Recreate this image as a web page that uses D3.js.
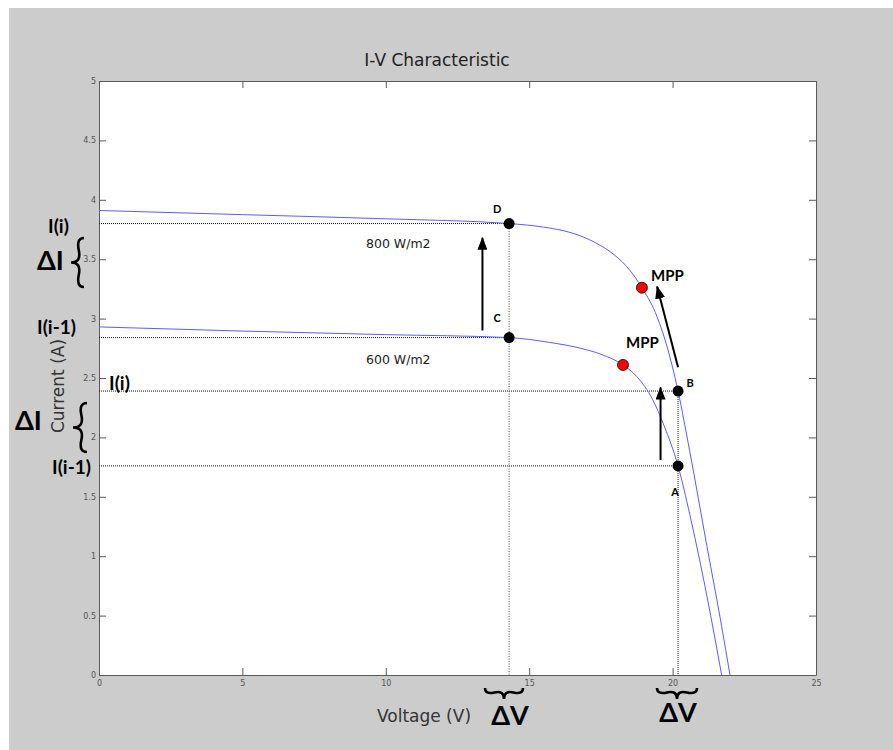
<!DOCTYPE html>
<html>
<head>
<meta charset="utf-8">
<script src="https://cdn.jsdelivr.net/npm/d3@7"></script>
<style>
  body { margin: 0; background: #fff; }
</style>
</head>
<body>
<script>
// courbe 800 W/m2
const voltage800 = [0, 5, 10, 14.3, 15.5, 16.5, 17.3, 18.0, 18.5, 18.93, 19.4, 19.8, 20.19, 20.6, 21.2, 21.71, 22.0]
const current800 = [3.91, 3.875, 3.84, 3.80, 3.77, 3.72, 3.64, 3.53, 3.41, 3.26, 3.05, 2.77, 2.39, 1.88, 1.08, 0.41, 0]

// courbe 600 W/m2
const voltage600 = [0, 5, 10, 14.3, 15.7, 16.8, 17.5, 18.27, 18.76, 19.3, 19.7, 20.19, 20.6, 21.2, 21.71]
const current600 = [2.93, 2.895, 2.865, 2.84, 2.80, 2.75, 2.70, 2.61, 2.51, 2.32, 2.10, 1.76, 1.35, 0.66, 0]

// points A B C D et MPP
const pointNames = ['D', 'C', 'B', 'A']
const pointV = [14.3, 14.3, 20.19, 20.19]
const pointI = [3.80, 2.84, 2.39, 1.76]
const mppV = [18.93, 18.27]
const mppI = [3.26, 2.61]

const xTicks = [0, 5, 10, 15, 20, 25]
const yTicks = [0, 0.5, 1, 1.5, 2, 2.5, 3, 3.5, 4, 4.5, 5]

const W = 893, H = 750
const margin = { top: 81, right: 77, bottom: 75, left: 99 }

const svg = d3.select('body').append('svg')
    .attr('width', W)
    .attr('height', H)

// fond gris de la figure
svg.append('rect').attr('x', 9).attr('y', 8).attr('width', W - 9).attr('height', H - 8).attr('fill', '#cccccc')

let x = d3.scaleLinear().domain([0, 25]).range([margin.left, W - margin.right])
let y = d3.scaleLinear().domain([0, 5]).range([H - margin.bottom, margin.top])

svg.append('rect')
    .attr('x', x(0)).attr('y', y(5))
    .attr('width', x(25) - x(0)).attr('height', y(0) - y(5))
    .attr('fill', '#fff')

// axes (ticks vers l'intérieur, comme matlab)
function styleAxis(g) {
    g.selectAll('path').attr('stroke', '#5a5a5a')
    g.selectAll('line').attr('stroke', '#5a5a5a')
    g.selectAll('text').attr('fill', '#555').attr('font-family', 'DejaVu Sans').attr('font-size', 8)
}
svg.append('g').attr('transform', 'translate(0,' + y(0) + ')')
    .call(d3.axisBottom(x).tickValues(xTicks).tickSizeInner(-7).tickSizeOuter(0).tickPadding(5).tickFormat(d3.format('')))
    .call(styleAxis)
svg.append('g').attr('transform', 'translate(0,' + y(5) + ')')
    .call(d3.axisTop(x).tickValues(xTicks).tickSizeInner(-7).tickSizeOuter(0).tickFormat(''))
    .call(styleAxis)
svg.append('g').attr('transform', 'translate(' + x(0) + ',0)')
    .call(d3.axisLeft(y).tickValues(yTicks).tickSizeInner(-7).tickSizeOuter(0).tickPadding(3).tickFormat(d3.format('')))
    .call(styleAxis)
svg.append('g').attr('transform', 'translate(' + x(25) + ',0)')
    .call(d3.axisRight(y).tickValues(yTicks).tickSizeInner(-7).tickSizeOuter(0).tickFormat(''))
    .call(styleAxis)
svg.selectAll('.domain').attr('fill', 'none')

// titre et labels
svg.append('text').text('I-V Characteristic')
    .attr('x', 437).attr('y', 66).attr('text-anchor', 'middle')
    .attr('font-family', 'DejaVu Sans').attr('font-size', 17).attr('fill', '#222')
svg.append('text').text('Voltage (V)')
    .attr('x', 424).attr('y', 722).attr('text-anchor', 'middle')
    .attr('font-family', 'DejaVu Sans').attr('font-size', 17).attr('fill', '#333')
svg.append('text').text('Current (A)')
    .attr('transform', 'translate(64,386) rotate(-90)').attr('text-anchor', 'middle')
    .attr('font-family', 'DejaVu Sans').attr('font-size', 17).attr('fill', '#333')

// lignes pointillées
const dotted = svg.append('g').attr('stroke', '#111').attr('stroke-width', 1).attr('stroke-dasharray', '1,1')
pointV.forEach((v, i) => {
    dotted.append('line').attr('x1', x(0)).attr('x2', x(v)).attr('y1', y(pointI[i])).attr('y2', y(pointI[i]))
})
dotted.append('line').attr('x1', x(pointV[0])).attr('x2', x(pointV[0])).attr('y1', y(pointI[0])).attr('y2', y(0))
    .attr('stroke', '#555').attr('stroke-dasharray', '1,1.5')
dotted.append('line').attr('x1', x(pointV[2])).attr('x2', x(pointV[2])).attr('y1', y(pointI[2])).attr('y2', y(0))

// courbes
let line = d3.line().x(d => x(d[0])).y(d => y(d[1])).curve(d3.curveMonotoneX)
svg.append('path').datum(d3.zip(voltage800, current800))
    .attr('d', line).attr('fill', 'none').attr('stroke', '#5c5cff').attr('stroke-width', 1)
svg.append('path').datum(d3.zip(voltage600, current600))
    .attr('d', line).attr('fill', 'none').attr('stroke', '#5c5cff').attr('stroke-width', 1)

svg.append('text').text('800 W/m2').attr('x', 366).attr('y', 248)
    .attr('font-family', 'DejaVu Sans').attr('font-size', 12.5).attr('fill', '#222')
svg.append('text').text('600 W/m2').attr('x', 366).attr('y', 364)
    .attr('font-family', 'DejaVu Sans').attr('font-size', 12.5).attr('fill', '#222')

// flèches
svg.append('defs').append('marker')
    .attr('id', 'head').attr('viewBox', '0 0 13 10').attr('refX', 12).attr('refY', 5)
    .attr('markerWidth', 13).attr('markerHeight', 10).attr('markerUnits', 'userSpaceOnUse')
    .attr('orient', 'auto')
    .append('path').attr('d', 'M0,0 L13,5 L0,10 Z').attr('fill', '#000')
const arrows = [[13.37, 2.90, 13.37, 3.68], [19.58, 1.81, 19.58, 2.42], [20.19, 2.59, 19.46, 3.27]]
svg.append('g').selectAll('line').data(arrows).join('line')
    .attr('x1', d => x(d[0])).attr('y1', d => y(d[1]))
    .attr('x2', d => x(d[2])).attr('y2', d => y(d[3]))
    .attr('stroke', '#000').attr('stroke-width', 2).attr('marker-end', 'url(#head)')

// points
svg.append('g').selectAll('circle').data(pointV).join('circle')
    .attr('cx', d => x(d)).attr('cy', (d, i) => y(pointI[i])).attr('r', 5.5).attr('fill', '#000')
svg.append('g').selectAll('circle').data(mppV).join('circle')
    .attr('cx', d => x(d)).attr('cy', (d, i) => y(mppI[i])).attr('r', 5.5)
    .attr('fill', '#f00').attr('stroke', '#000').attr('stroke-width', 0.8)

const labelOffset = [[-12, -11], [-12, -16], [12, -4], [-3, 30]]
svg.append('g').selectAll('text').data(pointNames).join('text')
    .text(d => d)
    .attr('x', (d, i) => x(pointV[i]) + labelOffset[i][0])
    .attr('y', (d, i) => y(pointI[i]) + labelOffset[i][1])
    .attr('text-anchor', 'middle')
    .attr('font-family', 'Lato').attr('font-weight', 'bold').attr('font-size', 11)

svg.append('text').text('MPP').attr('x', 651).attr('y', 281)
    .attr('font-family', 'Lato').attr('font-weight', 'bold').attr('font-size', 15)
svg.append('text').text('MPP').attr('x', 626).attr('y', 348)
    .attr('font-family', 'Lato').attr('font-weight', 'bold').attr('font-size', 15)

// annotations I(i), ΔI, ΔV
function bold(txt, px, py, size, anchor) {
    svg.append('text').text(txt).attr('x', px).attr('y', py)
        .attr('text-anchor', anchor || 'start')
        .attr('font-family', 'Lato').attr('font-weight', 'bold').attr('font-size', size).attr('fill', '#000')
}
bold('I(i)', 48, 233, 19)
bold('ΔI', 37, 270, 27)
bold('I(i-1)', 37, 334, 19)
bold('I(i)', 109, 390, 19)
bold('ΔI', 15, 430, 27)
bold('I(i-1)', 52, 474, 19)
bold('ΔV', 510, 725, 27, 'middle')
bold('ΔV', 678, 722, 27, 'middle')

// accolades
function brace(x1, y1, x2, y2, w, q) {
    let len = Math.sqrt((x1 - x2) ** 2 + (y1 - y2) ** 2)
    let dx = (x1 - x2) / len, dy = (y1 - y2) / len
    let qx1 = x1 + q * w * dy, qy1 = y1 - q * w * dx
    let qx2 = (x1 - .25 * len * dx) + (1 - q) * w * dy, qy2 = (y1 - .25 * len * dy) - (1 - q) * w * dx
    let tx1 = (x1 - .5 * len * dx) + w * dy, ty1 = (y1 - .5 * len * dy) - w * dx
    let qx3 = x2 + q * w * dy, qy3 = y2 - q * w * dx
    let qx4 = (x1 - .75 * len * dx) + (1 - q) * w * dy, qy4 = (y1 - .75 * len * dy) - (1 - q) * w * dx
    return 'M' + x1 + ' ' + y1 + ' Q' + qx1 + ' ' + qy1 + ' ' + qx2 + ' ' + qy2 + ' T' + tx1 + ' ' + ty1 +
        ' M' + x2 + ' ' + y2 + ' Q' + qx3 + ' ' + qy3 + ' ' + qx4 + ' ' + qy4 + ' T' + tx1 + ' ' + ty1
}
const braces = [[84, 238, 84, 287, 13], [87, 403, 87, 452, 14], [485, 688, 523, 688, 11], [657, 688, 697, 688, 11]]
svg.append('g').selectAll('path').data(braces).join('path')
    .attr('d', d => brace(d[0], d[1], d[2], d[3], d[4], 0.6))
    .attr('fill', 'none').attr('stroke', '#000').attr('stroke-width', 2.6)
</script>
</body>
</html>
